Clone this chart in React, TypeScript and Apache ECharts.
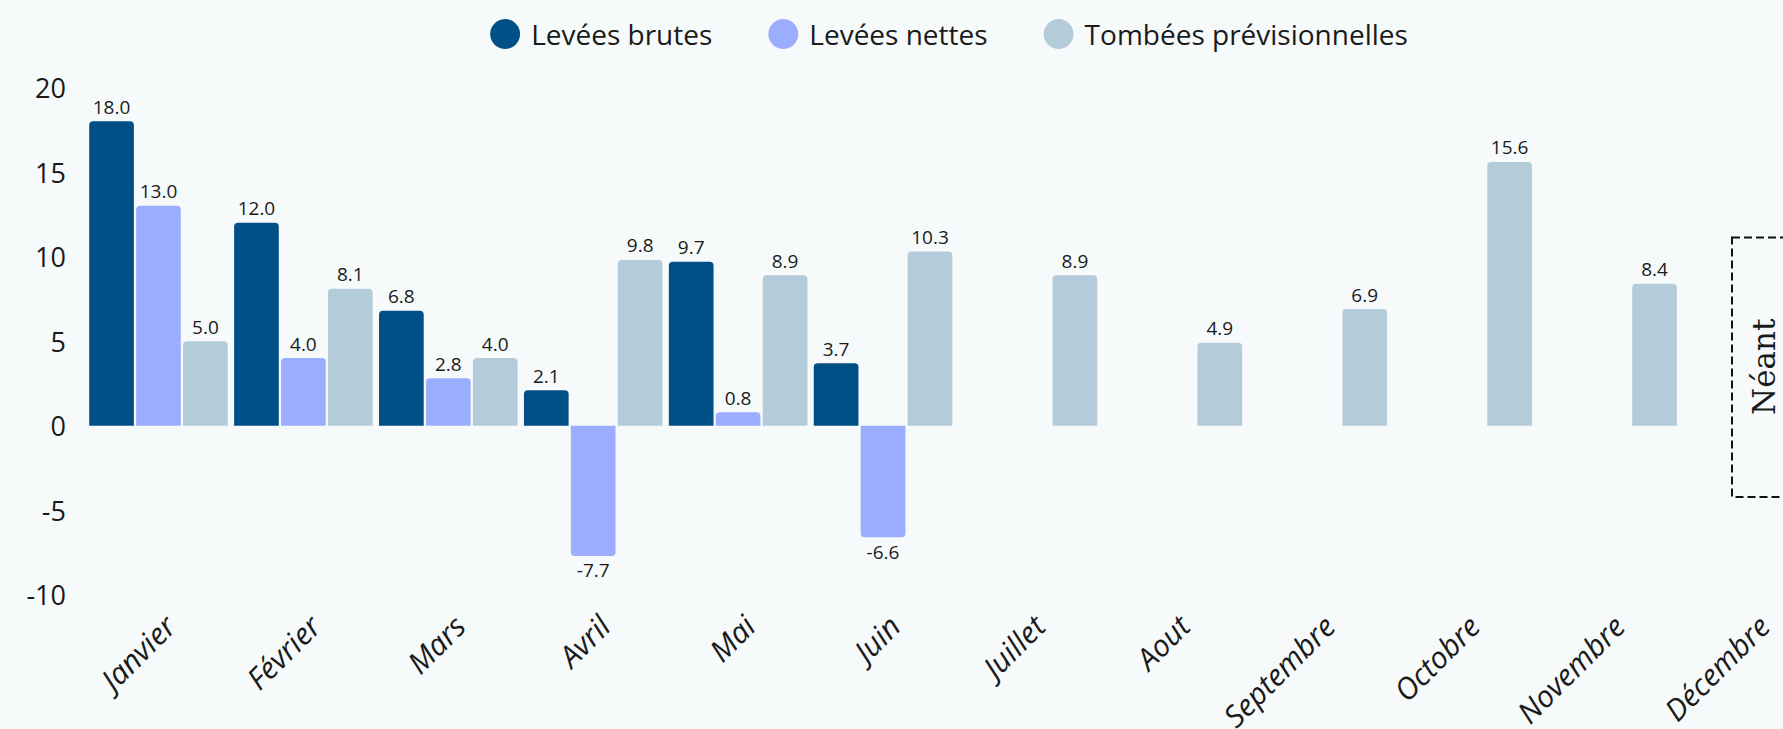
import React, { useEffect, useRef } from "react";
import * as echarts from "echarts";

const months = ["Janvier", "Février", "Mars", "Avril", "Mai", "Juin", "Juillet", "Aout", "Septembre", "Octobre", "Novembre", "Décembre"];
const seriesNames = ["Levées brutes", "Levées nettes", "Tombées prévisionnelles"];
const leveesBrutes: (number | null)[] = [18.0, 12.0, 6.8, 2.1, 9.7, 3.7, null, null, null, null, null, null];
const leveesNettes: (number | null)[] = [13.0, 4.0, 2.8, -7.7, 0.8, -6.6, null, null, null, null, null, null];
const tombees: (number | null)[] = [5.0, 8.1, 4.0, 9.8, 8.9, 10.3, 8.9, 4.9, 6.9, 15.6, 8.4, null];
const colors = ["#004F87", "#9BADFF", "#B4CBDA"];
const yMin = -10;
const yMax = 20;
const yStep = 5;
const noteText = "Néant";

const FONT = '"Open Sans", sans-serif';

function toItems(values: (number | null)[]) {
  return values.map((v) => {
    if (v === null) return null;
    const neg = v < 0;
    return {
      value: v,
      itemStyle: { borderRadius: neg ? [0, 0, 4, 4] : [4, 4, 0, 0] },
      label: { position: neg ? "bottom" : "top" },
    };
  });
}

export default function App() {
  const ref = useRef<HTMLDivElement>(null);
  useEffect(() => {
    if (!ref.current) return;
    const chart = echarts.init(ref.current, undefined, { renderer: "svg" });
    const all = [leveesBrutes, leveesNettes, tombees];
    chart.setOption({
      animation: false,
      backgroundColor: "#F6FAFB",
      color: colors,
      legend: {
        top: 14,
        left: "center",
        icon: "circle",
        itemWidth: 30,
        itemHeight: 30,
        itemGap: 56,
        data: seriesNames,
        textStyle: { fontFamily: FONT, fontSize: 28, color: "#1a1a1a", padding: [0, 0, 0, 6] },
      },
      grid: { left: 86, right: 73, top: 87.5, bottom: 134.2, containLabel: false, outerBoundsMode: "none" },
      xAxis: {
        type: "category",
        data: months,
        axisLine: { show: false },
        axisTick: { show: false },
        axisLabel: {
          rotate: 45,
          margin: 37,
          padding: [0, -16, 0, 0],
          fontFamily: FONT,
          fontStyle: "italic",
          fontSize: 30,
          color: "#1a1a1a",
          interval: 0,
        },
      },
      yAxis: {
        type: "value",
        min: yMin,
        max: yMax,
        interval: yStep,
        splitLine: { show: false },
        axisLine: { show: false },
        axisTick: { show: false },
        axisLabel: { margin: 20, fontFamily: FONT, fontSize: 27, color: "#1a1a1a" },
      },
      series: all.map((vals, i) => ({
        name: seriesNames[i],
        type: "bar",
        data: toItems(vals),
        barGap: "5%",
        barCategoryGap: "4.4%",
        label: {
          show: true,
          distance: 5,
          fontFamily: FONT,
          fontSize: 19,
          color: "#1a1a1a",
          formatter: (p: any) => Number(p.value).toFixed(1),
        },
      })),
      graphic: [
        {
          type: "rect",
          shape: { x: 1732, y: 237.5, width: 80, height: 259.5 },
          style: { fill: "none", stroke: "#111", lineWidth: 2, lineDash: [8, 4] },
        },
        {
          type: "text",
          x: 1764,
          y: 366.7,
          rotation: Math.PI / 2,
          style: {
            text: noteText,
            font: '31px "DejaVu Serif"',
            fill: "#1a1a1a",
            align: "center",
            verticalAlign: "middle",
          },
        },
      ],
    });
    return () => chart.dispose();
  }, []);
  return (
    <div style={{ position: "fixed", left: 0, top: 0, width: "100vw", height: "100vh", overflow: "hidden", background: "#F6FAFB" }}>
      <div ref={ref} style={{ width: 1898, height: 729 }} />
    </div>
  );
}
